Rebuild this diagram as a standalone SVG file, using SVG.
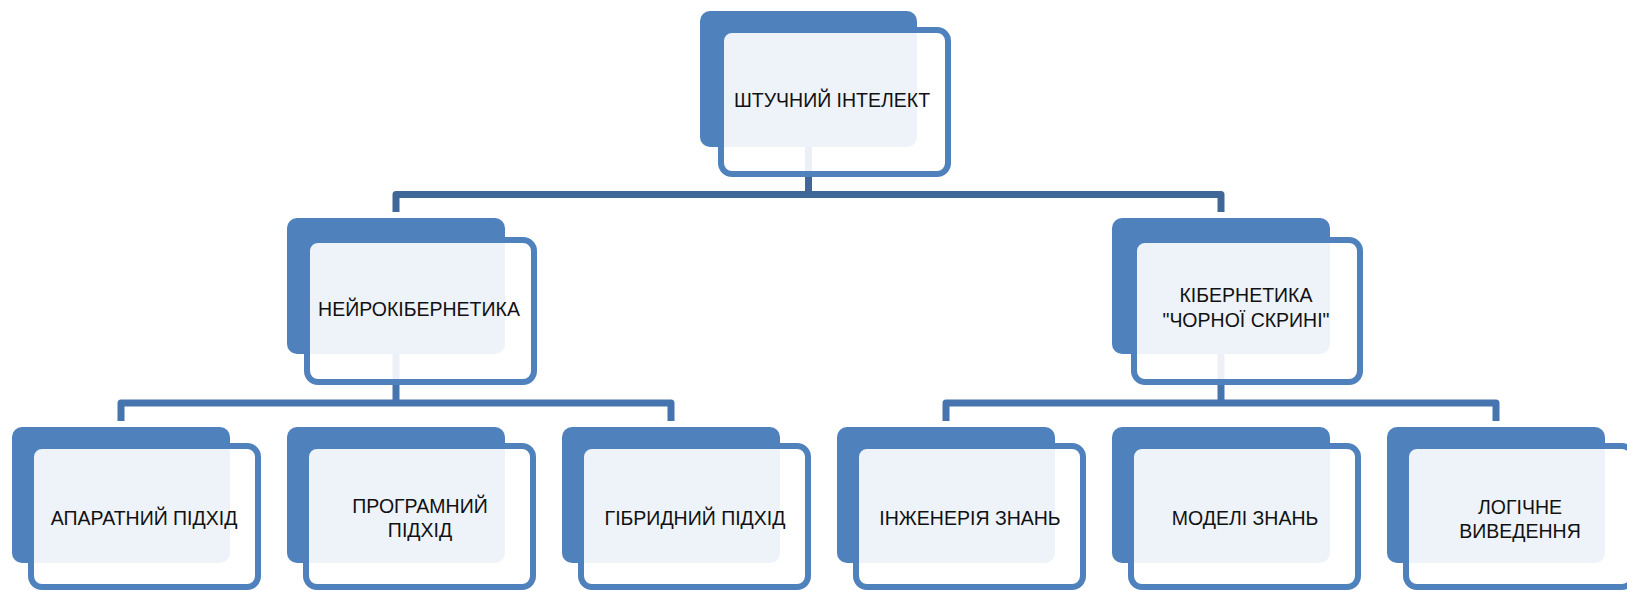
<svg xmlns="http://www.w3.org/2000/svg" width="1627" height="591" viewBox="0 0 1627 591">
  <style>
    .back { fill: #4F81BD; }
    .front { fill: #FFFFFF; fill-opacity: 0.9; stroke: #4F81BD; stroke-width: 6; }
    .lbl { font-family: "Liberation Sans", Arial, sans-serif; font-size: 19.5px; fill: #111111; text-anchor: middle; }
    .conn { fill: none; stroke-width: 7; stroke-linejoin: round; }
    .c1 { stroke: #3F6898; }
    .c2 { stroke: #4674AE; }
  </style>
  <rect width="1627" height="591" fill="#FFFFFF"/>

  <!-- connectors: drawn first so the translucent card faces soften them -->
  <g id="connectors">
    <path class="conn c1" d="M808.5 140 V194.5"/>
    <path class="conn c1" d="M396 212 V194.5 H1221 V212"/>
    <path class="conn c2" d="M396 345 V403"/>
    <path class="conn c2" d="M121 421 V403 H671 V421"/>
    <path class="conn c2" d="M1221 345 V403"/>
    <path class="conn c2" d="M946 421 V403 H1496 V421"/>
  </g>

  <!-- root -->
  <g id="node-root">
    <rect class="back" x="700" y="11" width="217" height="136" rx="10"/>
    <rect class="front" x="721" y="30" width="227" height="144" rx="11"/>
    <text class="lbl" x="832" y="107">ШТУЧНИЙ ІНТЕЛЕКТ</text>
  </g>

  <!-- second level -->
  <g id="node-neuro">
    <rect class="back" x="287" y="218" width="218" height="136" rx="10"/>
    <rect class="front" x="307" y="240" width="227" height="142" rx="11"/>
    <text class="lbl" x="419" y="316">НЕЙРОКІБЕРНЕТИКА</text>
  </g>
  <g id="node-blackbox">
    <rect class="back" x="1112" y="218" width="218" height="136" rx="10"/>
    <rect class="front" x="1134" y="240" width="226" height="142" rx="11"/>
    <text class="lbl" x="1246" y="302">КІБЕРНЕТИКА</text>
    <text class="lbl" x="1246" y="327">"ЧОРНОЇ СКРИНІ"</text>
  </g>

  <!-- third level -->
  <g id="node-hardware">
    <rect class="back" x="12" y="427" width="218" height="136" rx="10"/>
    <rect class="front" x="31" y="446" width="227" height="141" rx="11"/>
    <text class="lbl" x="144" y="524.5">АПАРАТНИЙ ПІДХІД</text>
  </g>
  <g id="node-software">
    <rect class="back" x="287" y="427" width="218" height="136" rx="10"/>
    <rect class="front" x="306" y="446" width="227" height="141" rx="11"/>
    <text class="lbl" x="420" y="512.5">ПРОГРАМНИЙ</text>
    <text class="lbl" x="420" y="537">ПІДХІД</text>
  </g>
  <g id="node-hybrid">
    <rect class="back" x="562" y="427" width="218" height="136" rx="10"/>
    <rect class="front" x="581" y="446" width="227" height="141" rx="11"/>
    <text class="lbl" x="695" y="524.5">ГІБРИДНИЙ ПІДХІД</text>
  </g>
  <g id="node-engineering">
    <rect class="back" x="837" y="427" width="218" height="136" rx="10"/>
    <rect class="front" x="856" y="446" width="227" height="141" rx="11"/>
    <text class="lbl" x="970" y="524.5">ІНЖЕНЕРІЯ ЗНАНЬ</text>
  </g>
  <g id="node-models">
    <rect class="back" x="1112" y="427" width="218" height="136" rx="10"/>
    <rect class="front" x="1131" y="446" width="227" height="141" rx="11"/>
    <text class="lbl" x="1245" y="524.5">МОДЕЛІ ЗНАНЬ</text>
  </g>
  <g id="node-inference">
    <rect class="back" x="1387" y="427" width="218" height="136" rx="10"/>
    <rect class="front" x="1406" y="446" width="227" height="141" rx="11"/>
    <text class="lbl" x="1520" y="513.5">ЛОГІЧНЕ</text>
    <text class="lbl" x="1520" y="538">ВИВЕДЕННЯ</text>
  </g>
</svg>
